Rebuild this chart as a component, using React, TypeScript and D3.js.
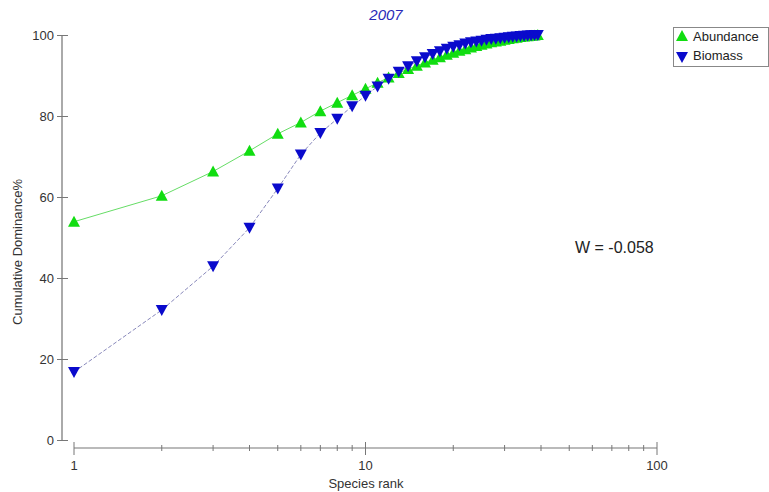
import { useEffect, useRef } from 'react';
import * as d3 from 'd3';

const ranks = d3.range(1, 40);
const abundance = [
  53.9, 60.3, 66.3, 71.4, 75.6, 78.4, 81.2, 83.3, 85.1, 86.7,
  88.2, 89.5, 90.6, 91.6, 92.4, 93.2, 93.9, 94.5, 95.1, 95.6,
  96.1, 96.5, 96.9, 97.3, 97.6, 97.9, 98.2, 98.4, 98.6, 98.8,
  99.0, 99.2, 99.35, 99.5, 99.6, 99.7, 99.8, 99.9, 100,
];
const biomass = [
  16.8, 32.1, 42.9, 52.4, 62.1, 70.5, 75.8, 79.3, 82.4, 85.0,
  87.3, 89.2, 90.9, 92.3, 93.5, 94.5, 95.3, 96.0, 96.6, 97.1,
  97.5, 97.9, 98.2, 98.4, 98.6, 98.8, 99.0, 99.1, 99.2, 99.3,
  99.45, 99.55, 99.65, 99.75, 99.82, 99.88, 99.93, 99.97, 100,
];
const yTicks = [0, 20, 40, 60, 80, 100];
const xMajor = [1, 10, 100];

const FONT = 'Liberation Sans, Arial, sans-serif';

const App = () => {
  const svgRef = useRef<SVGSVGElement>(null);

  useEffect(() => {
    if (!svgRef.current) return;
    const svg = d3.select(svgRef.current);
    svg.selectAll('*').remove();

    const x = d3.scaleLog().domain([1, 100]).range([74, 657]);
    const y = d3.scaleLinear().domain([0, 100]).range([440, 35]);

    // y axis
    const yAxis = svg.append('g')
      .attr('transform', 'translate(62,0)')
      .call(d3.axisLeft(y).tickValues(yTicks).tickSize(5).tickPadding(3));
    yAxis.select('.domain').attr('stroke', '#aaa').attr('stroke-width', 2);
    yAxis.selectAll('.tick line').attr('stroke', '#777').attr('x2', 6).attr('x1', -5);
    yAxis.selectAll('text').style('font-family', FONT).style('font-size', '13px').style('fill', '#333');
    yAxis.select('.domain').attr('d', `M0,${y(100)}V${y(0)}`);

    // x axis
    const minor = d3.range(1, 100).filter(v => !xMajor.includes(v) && (v < 10 || v % 10 === 0));
    const xg = svg.append('g').attr('transform', 'translate(0,448)');
    xg.append('line').attr('x1', x(1)).attr('x2', x(100)).attr('stroke', '#777').attr('stroke-width', 1.2);
    xg.selectAll('.minor').data(minor).enter().append('line')
      .attr('x1', d => x(d)).attr('x2', d => x(d)).attr('y1', -3).attr('y2', 3)
      .attr('stroke', '#777');
    xg.selectAll('.major').data(xMajor).enter().append('line')
      .attr('x1', d => x(d)).attr('x2', d => x(d)).attr('y1', -6).attr('y2', 7)
      .attr('stroke', '#777');
    xg.selectAll('.lbl').data(xMajor).enter().append('text')
      .attr('x', d => x(d)).attr('y', 22).attr('text-anchor', 'middle')
      .style('font-family', FONT).style('font-size', '13px').style('fill', '#333')
      .text(d => d);

    svg.append('text')
      .attr('x', 366).attr('y', 488).attr('text-anchor', 'middle')
      .style('font-family', FONT).style('font-size', '13px').style('fill', '#333')
      .text('Species rank');

    svg.append('text')
      .attr('transform', 'rotate(-90)')
      .attr('x', -252).attr('y', 22).attr('text-anchor', 'middle')
      .style('font-family', FONT).style('font-size', '13px').style('fill', '#333')
      .text('Cumulative Dominance%');

    svg.append('text')
      .attr('x', 386).attr('y', 20).attr('text-anchor', 'middle')
      .style('font-family', FONT).style('font-size', '15px').style('font-style', 'italic')
      .style('fill', '#2a2ab8')
      .text('2007');

    const line = d3.line<number>().x((_, i) => x(ranks[i])).y(d => y(d));

    svg.append('path').datum(abundance).attr('d', line)
      .attr('fill', 'none').attr('stroke', '#66dd66').attr('stroke-width', 1);
    svg.append('path').datum(biomass).attr('d', line)
      .attr('fill', 'none').attr('stroke', '#8888bb').attr('stroke-width', 1)
      .attr('stroke-dasharray', '4,2');

    const up = 'M0,-6L6,5L-6,5Z';
    const down = 'M0,6L6,-5L-6,-5Z';

    svg.selectAll('.ab').data(abundance).enter().append('path')
      .attr('d', up).attr('fill', '#11dd11')
      .attr('transform', (d, i) => `translate(${x(ranks[i])},${y(d)})`);
    svg.selectAll('.bm').data(biomass).enter().append('path')
      .attr('d', down).attr('fill', '#0a0acc')
      .attr('transform', (d, i) => `translate(${x(ranks[i])},${y(d)})`);

    svg.append('text')
      .attr('x', 575).attr('y', 253)
      .style('font-family', FONT).style('font-size', '16px').style('fill', '#222')
      .text('W = -0.058');

    // legend
    const lg = svg.append('g');
    lg.append('rect').attr('x', 673.5).attr('y', 27.5).attr('width', 95).attr('height', 39)
      .attr('fill', 'white').attr('stroke', '#888');
    lg.append('path').attr('d', up).attr('fill', '#11dd11').attr('transform', 'translate(682,36)');
    lg.append('path').attr('d', down).attr('fill', '#0a0acc').attr('transform', 'translate(682,57)');
    lg.append('text').attr('x', 693).attr('y', 41)
      .style('font-family', FONT).style('font-size', '13px').style('fill', '#222').text('Abundance');
    lg.append('text').attr('x', 693).attr('y', 60)
      .style('font-family', FONT).style('font-size', '13px').style('fill', '#222').text('Biomass');
  }, []);

  return (
    <svg ref={svgRef} width={769} height={492}
      style={{ position: 'absolute', left: 0, top: 0, background: 'white' }} />
  );
};

export default App;
